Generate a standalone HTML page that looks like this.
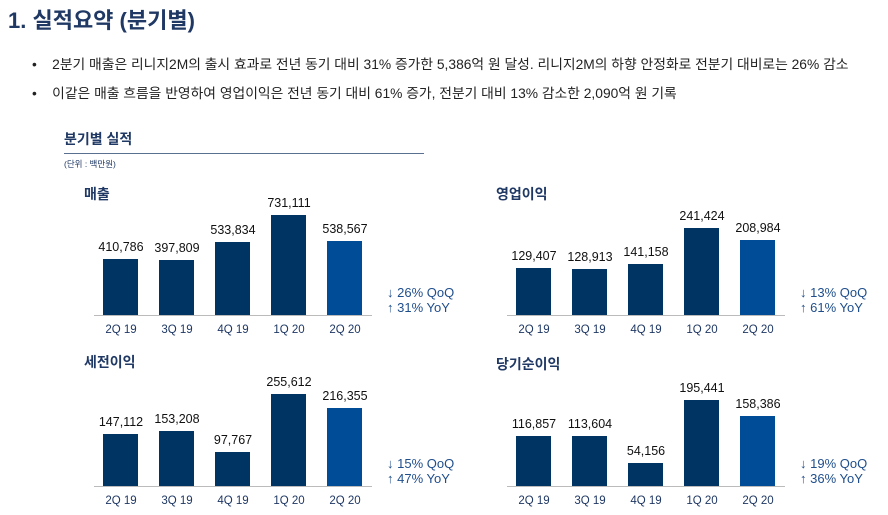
<!DOCTYPE html>
<html><head><meta charset="utf-8"><style>
body{margin:0;width:888px;height:515px;background:#fff;position:relative;overflow:hidden;font-family:"Liberation Sans","Noto Sans CJK KR",sans-serif;}
.a{position:absolute;white-space:nowrap}
.h1{left:8px;top:3px;font-size:22px;font-weight:bold;color:#1f3864}
.p{left:32px;font-size:13.8px;color:#222}
.bar{position:absolute;width:35px;background:#003463}
.bar.l{background:#004c97}
.v{position:absolute;width:60px;text-align:center;font-size:12.5px;color:#111}
.x{position:absolute;width:60px;text-align:center;font-size:11.5px;color:#1f3864}
.ax{position:absolute;height:1px;background:#bbb}
.t{font-size:14px;font-weight:bold;color:#1f3864}
.q{font-size:13px;color:#1f4e8c;line-height:15px}
</style></head><body>
<div class="a h1">1. 실적요약 (분기별)</div>
<div class="a p" style="top:53px">•&nbsp;&nbsp;&nbsp;&nbsp;2분기 매출은 리니지2M의 출시 효과로 전년 동기 대비 31% 증가한 5,386억 원 달성. 리니지2M의 하향 안정화로 전분기 대비로는 26% 감소</div>
<div class="a p" style="top:82px">•&nbsp;&nbsp;&nbsp;&nbsp;이같은 매출 흐름을 반영하여 영업이익은 전년 동기 대비 61% 증가, 전분기 대비 13% 감소한 2,090억 원 기록</div>
<div class="a" style="left:64px;top:129px;font-size:14px;font-weight:bold;color:#1f3864">분기별 실적</div>
<div class="a" style="left:64px;top:153px;width:360px;height:1px;background:#5a7090"></div>
<div class="a" style="left:64px;top:158px;font-size:8.5px;color:#1f3864">(단위 : 백만원)</div>
<div id="c"></div>
<script>
var charts=[
{t:"매출",tx:84,ty:184,ox:0,base:315,tops:[259,260,242,215,241],v:["410,786","397,809","533,834","731,111","538,567"],q:["↓ 26% QoQ","↑ 31% YoY"]},
{t:"영업이익",tx:496,ty:184,ox:413,base:315,tops:[268,269,264,228,240],v:["129,407","128,913","141,158","241,424","208,984"],q:["↓ 13% QoQ","↑ 61% YoY"]},
{t:"세전이익",tx:84,ty:352,ox:0,base:486,tops:[434,431,452,394,408],v:["147,112","153,208","97,767","255,612","216,355"],q:["↓ 15% QoQ","↑ 47% YoY"]},
{t:"당기순이익",tx:496,ty:354,ox:413,base:486,tops:[436,436,463,400,416],v:["116,857","113,604","54,156","195,441","158,386"],q:["↓ 19% QoQ","↑ 36% YoY"]}];
var xl=["2Q 19","3Q 19","4Q 19","1Q 20","2Q 20"],h="";
charts.forEach(function(c){
h+='<div class="a t" style="left:'+c.tx+'px;top:'+c.ty+'px">'+c.t+'</div>';
h+='<div class="ax" style="left:'+(94+c.ox)+'px;top:'+c.base+'px;width:278px"></div>';
for(var i=0;i<5;i++){var x=103+c.ox+56*i;
h+='<div class="bar'+(i==4?' l':'')+'" style="left:'+x+'px;top:'+c.tops[i]+'px;height:'+(c.base-c.tops[i])+'px"></div>';
h+='<div class="v" style="left:'+(x-12)+'px;top:'+(c.tops[i]-19)+'px">'+c.v[i]+'</div>';
h+='<div class="x" style="left:'+(x-12)+'px;top:'+(c.base+9)+'px">'+xl[i]+'</div>';}
h+='<div class="a q" style="left:'+(387+c.ox)+'px;top:'+(c.base-30)+'px">'+c.q[0]+'<br>'+c.q[1]+'</div>';
});
document.getElementById("c").innerHTML=h;
</script>
</body></html>
